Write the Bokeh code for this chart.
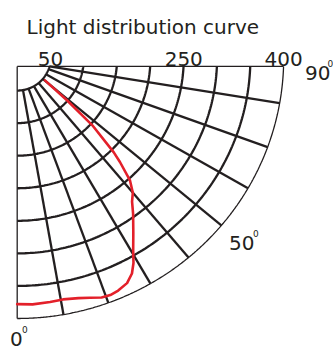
import numpy as np
from bokeh.plotting import figure
from bokeh.models import Range1d
from bokeh.core.properties import value
from bokeh.embed import file_html
from bokeh.resources import INLINE

# ---------------- data ----------------
title_text = "Light distribution curve"
ring_values = [50, 100, 150, 200, 250, 300, 350, 400]      # cd rings
spoke_angles = [10, 20, 30, 40, 50, 60, 70, 80]            # degrees
tick_values = [50, 250, 400]
tick_labels = ["50", "250", "400"]
angle_label_text = ["0", "50", "90"]
curve_angles = [0, 3.5, 7.5, 10.5, 14, 16.5, 19, 21, 23, 25.5, 27.5, 29,
                30.5, 33, 36, 38, 40, 42, 44, 45, 47.5, 49, 50.5]
curve_values = [378, 379, 378, 377, 380, 384, 389, 390, 388, 383, 373, 360,
                343, 320, 296, 280, 270, 253, 222, 205, 153, 100, 54]

# ---------------- layout ----------------
W, H = 333, 349
CX, CY = 16.7, 57.5         # pixel position of the pole inside the canvas
SX, SY = 0.66625, 0.65125   # pixels per unit
TOP = -13.0                 # y (units) of the upper border
FONT = value("DejaVu Sans")
INK = "#231f20"
RED = "#e3202a"


def ref(px, py):
    """canvas pixel -> data units"""
    return (px - CX) / SX, (CY - py) / SY


def polar(r, deg):
    a = np.radians(deg)
    return r * np.sin(a), -r * np.cos(a)


p = figure(width=W, height=H, output_backend="svg", toolbar_location=None,
           x_range=Range1d(-CX / SX, (W - CX) / SX),
           y_range=Range1d(-(H - CY) / SY, CY / SY),
           min_border=0, outline_line_color=None)
p.axis.visible = False
p.grid.visible = False
p.background_fill_color = "white"
p.border_fill_color = "white"

rmax = ring_values[-1]

# inner rings (thick)
for r in ring_values[:-1]:
    amax = np.degrees(np.arccos(-TOP / r))
    t = np.linspace(0, amax, 120)
    x, y = polar(r, t)
    p.line(x, y, line_color=INK, line_width=2.3)

# spokes (thick), starting on the first ring
r0 = ring_values[0]
a0max = np.degrees(np.arccos(-TOP / r0))
xs0, ys0, xs1, ys1 = [], [], [], []
for a in spoke_angles:
    x0, y0 = polar(r0, min(a, a0max))
    x1, y1 = polar(rmax, a)
    xs0.append(x0); ys0.append(y0); xs1.append(x1); ys1.append(y1)
p.segment(xs0, ys0, xs1, ys1, line_color=INK, line_width=2.3)

# outer boundary (thin)
amax = np.degrees(np.arccos(-TOP / rmax))
t = np.linspace(0, amax, 300)
x, y = polar(rmax, t)
p.line(x, y, line_color=INK, line_width=1.3)
p.line([0, 0], [TOP, -rmax], line_color=INK, line_width=1.3)
p.line([0, np.sqrt(rmax ** 2 - TOP ** 2)], [TOP, TOP], line_color=INK, line_width=1.3)

# distribution curve
cx, cy = polar(np.array(curve_values, float), np.array(curve_angles, float))
p.line(cx, cy, line_color=RED, line_width=2.6, line_join="round", line_cap="round")

# title
tx, ty = ref(26, 26.5)
p.text([tx], [ty], text=[title_text], text_font=FONT, text_font_size="20px",
       text_color=INK, text_align="left", text_baseline="alphabetic")

# ring value labels
p.text(tick_values, [ref(0, 58)[1]] * len(tick_values), text=tick_labels,
       text_font=FONT, text_font_size="20px", text_color=INK,
       text_align="center", text_baseline="alphabetic")

# angle labels with small superscript zero
pos_main = [ref(9.5, 338), ref(228.5, 242.7), ref(304.5, 72.3)]
pos_sup = [ref(21.5, 329), ref(252.5, 232.5), ref(327, 63)]
p.text([q[0] for q in pos_main], [q[1] for q in pos_main], text=angle_label_text,
       text_font=FONT, text_font_size="20px", text_color=INK,
       text_align="left", text_baseline="alphabetic")
p.text([q[0] for q in pos_sup], [q[1] for q in pos_sup], text=["0"] * 3,
       text_font=FONT, text_font_size="9px", text_color=INK,
       text_align="left", text_baseline="alphabetic")

open("out.html", "w").write(file_html(p, INLINE))
